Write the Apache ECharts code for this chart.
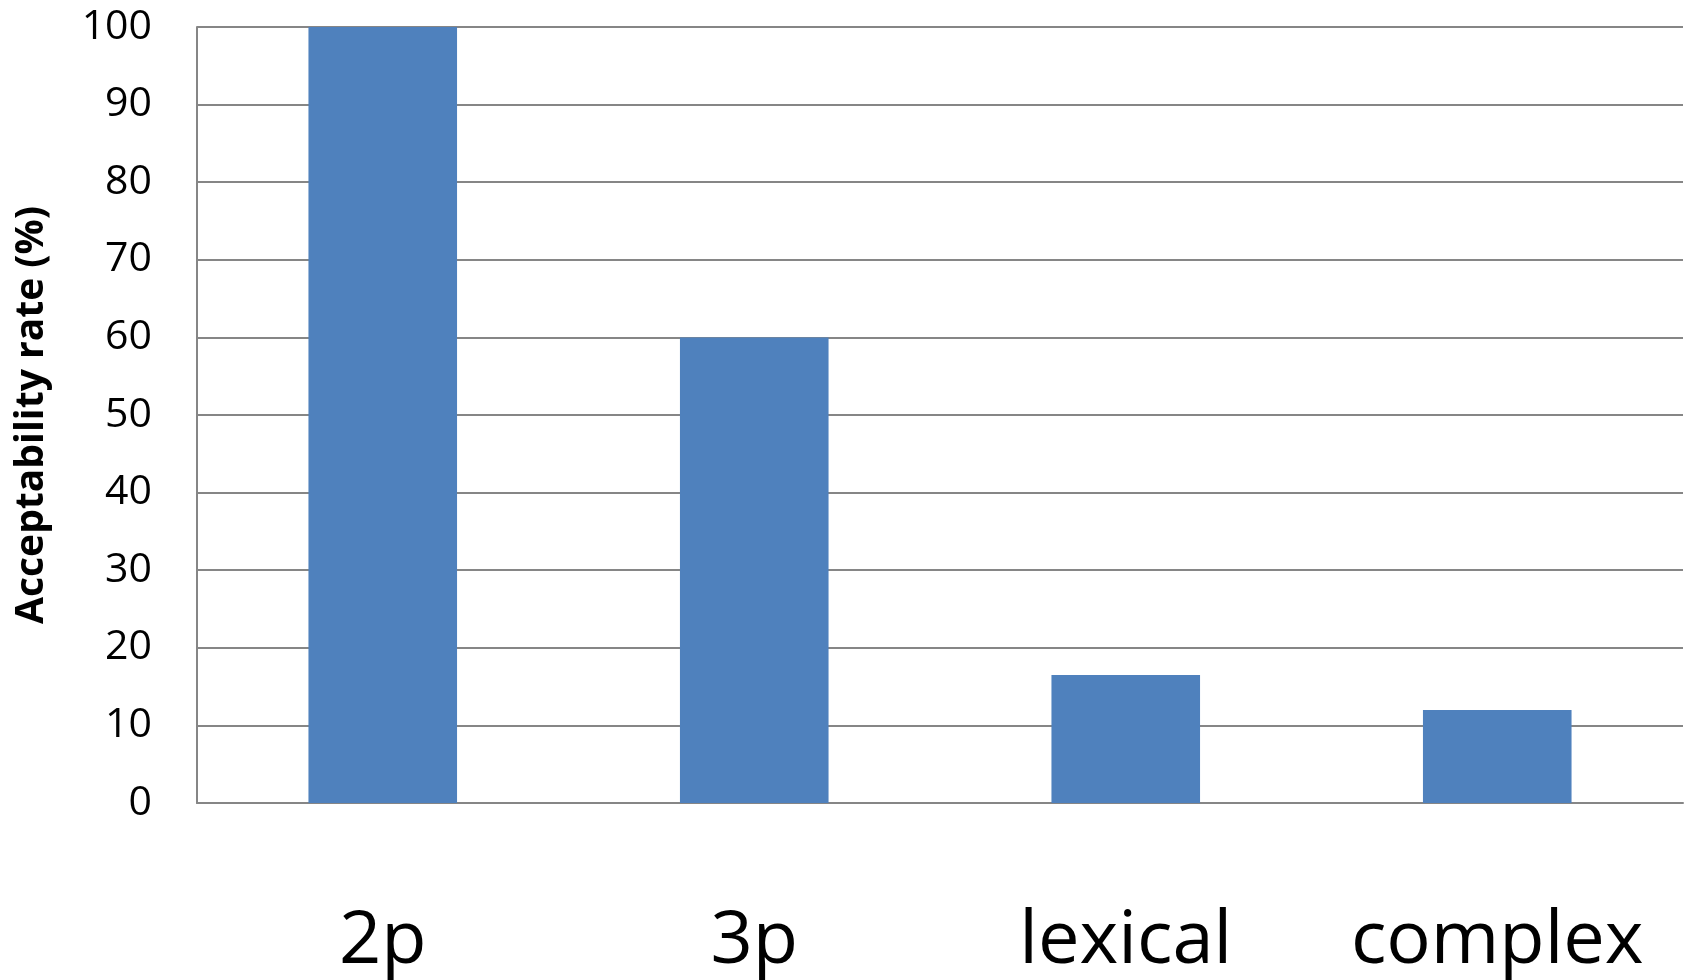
<!DOCTYPE html>
<html>
<head>
<meta charset="utf-8">
<title>Acceptability rate</title>
<script src="https://cdn.jsdelivr.net/npm/echarts@6/dist/echarts.min.js"></script>
<style>
  html, body { margin: 0; padding: 0; background: #ffffff; }
  #chart { width: 1688px; height: 980px; }
</style>
</head>
<body>
<div id="chart"></div>
<script>
// Condition labels along the x axis
const categories = ['2p', '3p', 'lexical', 'complex'];
// Acceptability rate per condition, in percent
const acceptability = [100, 60, 16.5, 12];
// Value axis range and step
const yMin = 0;
const yMax = 100;
const yStep = 10;

const chart = echarts.init(document.getElementById('chart'), null, { renderer: 'canvas' });

chart.setOption({
  animation: false,
  backgroundColor: '#ffffff',
  grid: { left: 197, right: 5, top: 27, bottom: 177, containLabel: false },
  xAxis: {
    type: 'category',
    data: categories,
    axisLine: { show: true, lineStyle: { color: '#868686', width: 2 } },
    axisTick: { show: false },
    axisLabel: {
      interval: 0,
      color: '#000000',
      fontFamily: 'Open Sans',
      fontSize: 74,
      margin: 102
    }
  },
  yAxis: {
    type: 'value',
    min: yMin,
    max: yMax,
    interval: yStep,
    name: 'Acceptability rate (%)',
    nameLocation: 'middle',
    nameGap: 146,
    nameTextStyle: {
      color: '#000000',
      fontFamily: 'Open Sans',
      fontWeight: 'bold',
      fontSize: 39
    },
    axisLine: { show: true, lineStyle: { color: '#868686', width: 2 } },
    axisTick: { show: false },
    splitLine: { show: true, lineStyle: { color: '#868686', width: 2 } },
    axisLabel: {
      color: '#000000',
      fontFamily: 'Open Sans',
      fontSize: 41,
      margin: 45
    }
  },
  series: [{
    type: 'bar',
    data: acceptability,
    barWidth: '40%',
    itemStyle: { color: '#4F81BD' }
  }]
});
</script>
</body>
</html>
